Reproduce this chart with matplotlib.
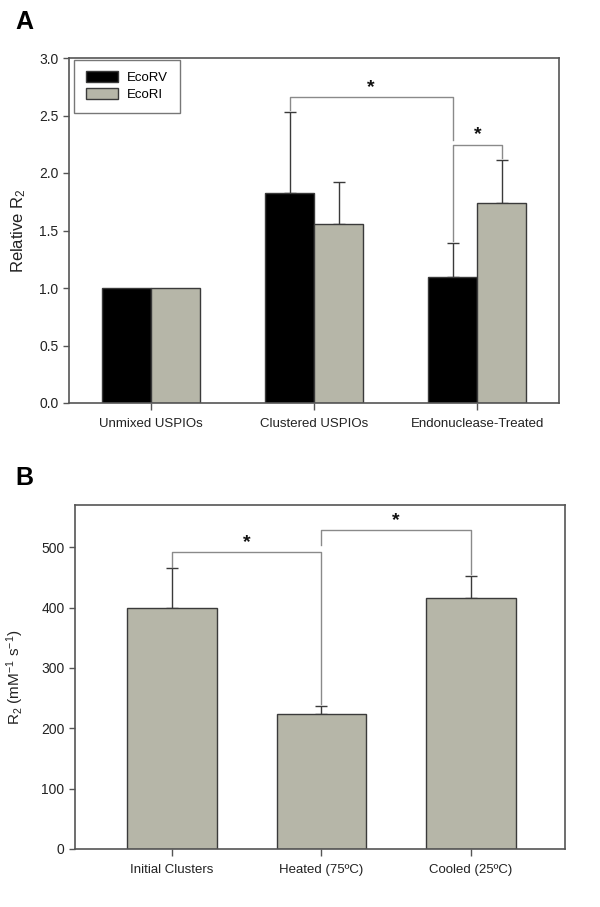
import numpy as np
import matplotlib.pyplot as plt

plt.rcParams['font.family'] = ['Liberation Sans', 'DejaVu Sans']
plt.rcParams['mathtext.fontset'] = 'custom'
plt.rcParams['mathtext.rm'] = 'Liberation Sans'
plt.rcParams['mathtext.it'] = 'Liberation Sans'

######## data ########
# panel A
groups_a = ['Unmixed USPIOs', 'Clustered USPIOs', 'Endonuclease-Treated']
ecorv = [1.0, 1.83, 1.10]
ecorv_err = [0.0, 0.70, 0.29]
ecori = [1.0, 1.56, 1.74]
ecori_err = [0.0, 0.36, 0.37]

# panel B
groups_b = ['Initial Clusters', 'Heated (75ºC)', 'Cooled (25ºC)']
r2 = [400, 224, 416]
r2_err = [65, 13, 36]

GREY = '#b6b6a8'
EDGE = '#3a3a3a'
SPINE = '#555555'
BRACKET = '#8a8a8a'


def style_axes(ax):
    for s in ax.spines.values():
        s.set_color(SPINE)
        s.set_linewidth(1.2)
    ax.tick_params(colors=SPINE, labelcolor='#222222', labelsize=9.5,
                   direction='out', length=4, width=1.0)
    ax.tick_params(axis='y', labelsize=10)
    ax.tick_params(axis='x', length=5, pad=6)


def bracket(ax, x1, x2, y, y1, y2, star_y):
    ax.plot([x1, x1, x2, x2], [y1, y, y, y2], color=BRACKET, lw=1.0)
    ax.text((x1 + x2) / 2, star_y, '*', ha='center', va='center',
            fontsize=14, fontweight='bold', color='#111111')


fig = plt.figure(figsize=(6, 9.07), dpi=100)

######## panel A ########
ax = fig.add_axes([69 / 600, 1 - 403 / 907, 490 / 600, 345 / 907])
x = np.arange(1, 4)
w = 0.3
ax.bar(x - w / 2, ecorv, w, color='black', edgecolor=EDGE, linewidth=1.0,
       label='EcoRV', zorder=2)
ax.bar(x + w / 2, ecori, w, color=GREY, edgecolor=EDGE, linewidth=1.0,
       label='EcoRI', zorder=2)
for xs, vals, errs in [(x - w / 2, ecorv, ecorv_err), (x + w / 2, ecori, ecori_err)]:
    for xi, v, e in zip(xs, vals, errs):
        if e > 0:
            ax.errorbar(xi, v, yerr=[[0], [e]], fmt='none', ecolor=EDGE,
                        elinewidth=1.0, capsize=4, capthick=1.0, zorder=1)

bracket(ax, 2 - w / 2, 3 - w / 2, 2.66, 2.55, 2.29, 2.74)
bracket(ax, 3 - w / 2, 3 + w / 2, 2.24, 1.41, 2.13, 2.33)

ax.set_xlim(0.5, 3.5)
ax.set_ylim(0, 3.0)
ax.set_yticks(np.arange(0, 3.01, 0.5))
ax.set_yticklabels(['%.1f' % t for t in np.arange(0, 3.01, 0.5)])
ax.set_xticks(x)
ax.set_xticklabels(groups_a)
ax.set_ylabel('Relative R$_2$', fontsize=12, color='#222222', labelpad=8)
style_axes(ax)
leg = ax.legend(loc='upper left', bbox_to_anchor=(5 / 490, 1 - 1.5 / 345),
                fontsize=9.5, frameon=True, fancybox=False,
                borderaxespad=0.0, handlelength=2.4, handleheight=0.9,
                borderpad=0.9, labelspacing=0.3, handletextpad=0.7)
leg.get_frame().set_edgecolor(SPINE)
leg.get_frame().set_linewidth(1.0)
fig.text(15 / 600, 1 - 22 / 907, 'A', fontsize=18, fontweight='bold',
         va='center', ha='left')

######## panel B ########
ax2 = fig.add_axes([75 / 600, 1 - 849 / 907, 490 / 600, 344 / 907])
xb = np.arange(1, 4)
ax2.bar(xb, r2, 0.6, color=GREY, edgecolor=EDGE, linewidth=1.0, zorder=2)
ax2.errorbar(xb, r2, yerr=[np.zeros(3), r2_err], fmt='none', ecolor=EDGE,
             elinewidth=1.0, capsize=4, capthick=1.0, zorder=1)

bracket(ax2, 1, 2, 492, 468, 240, 508)
bracket(ax2, 2, 3, 529, 503, 455, 545)

ax2.set_xlim(0.35, 3.63)
ax2.set_ylim(0, 570)
ax2.set_yticks(np.arange(0, 501, 100))
ax2.set_xticks(xb)
ax2.set_xticklabels(groups_b)
ax2.set_ylabel('R$_2$ (mM$^{-1}$ s$^{-1}$)', fontsize=11, color='#222222',
               labelpad=11)
style_axes(ax2)
fig.text(15 / 600, 1 - 478 / 907, 'B', fontsize=18, fontweight='bold',
         va='center', ha='left')

fig.savefig('out.png', dpi=100, facecolor='white')
